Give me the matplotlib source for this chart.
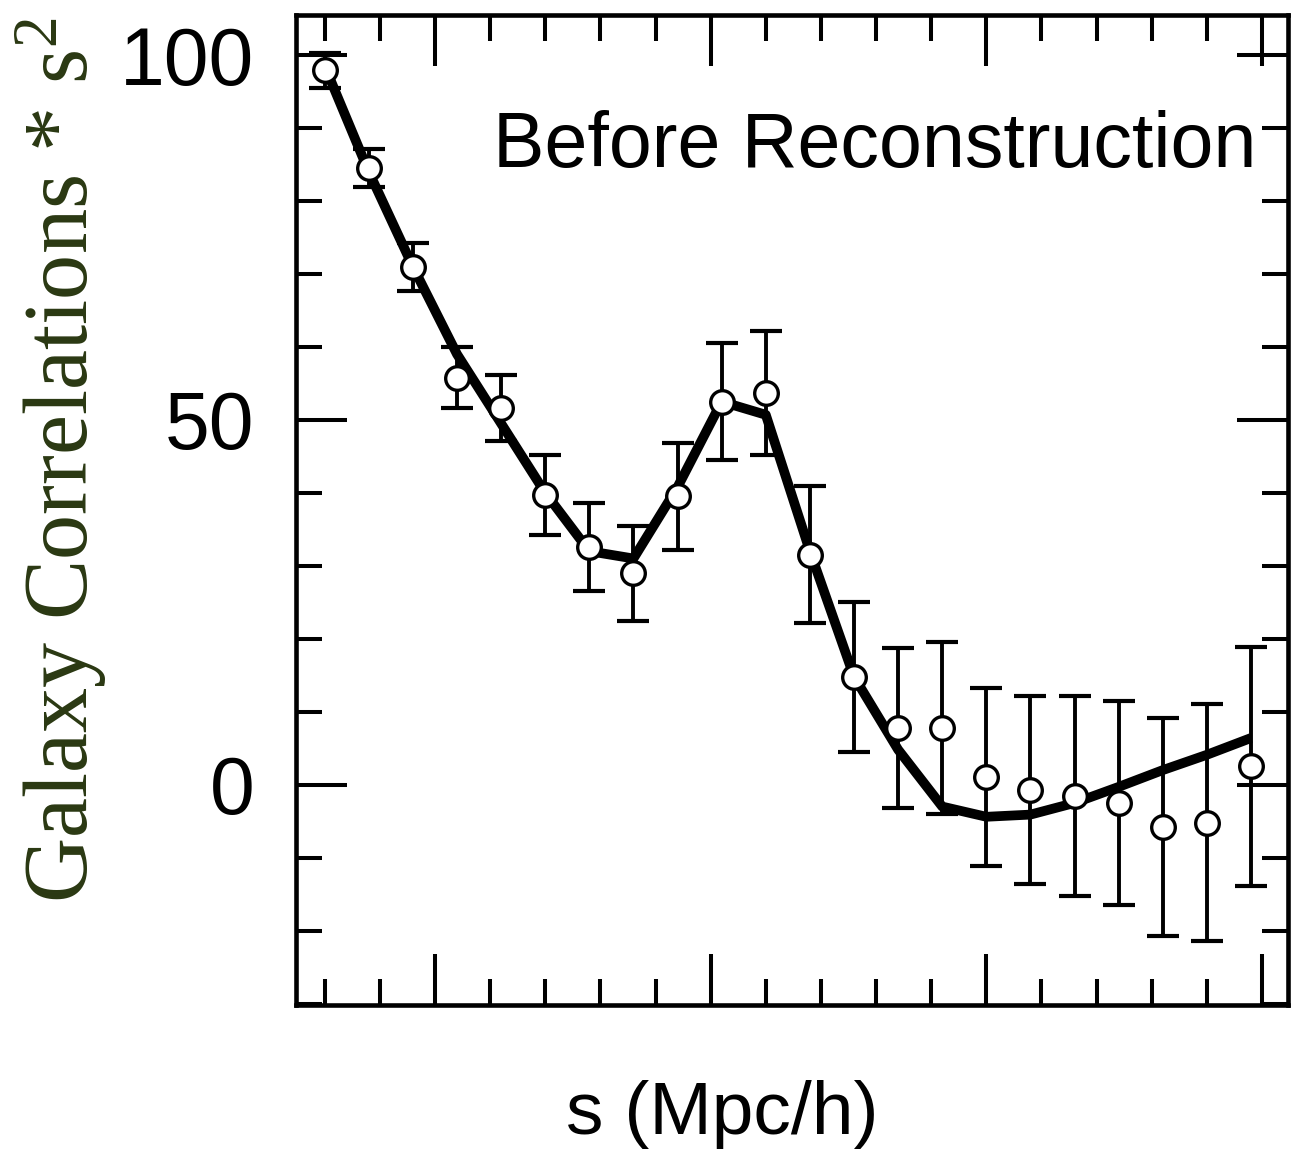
import numpy as np
import matplotlib.pyplot as plt
from matplotlib.ticker import MultipleLocator, FixedLocator

plt.rcParams['mathtext.fontset'] = 'custom'
plt.rcParams['mathtext.rm'] = 'Liberation Serif'
plt.rcParams['mathtext.it'] = 'Liberation Serif:italic'

# separation bins (Mpc/h)
s = [30, 38, 46, 54, 62, 70, 78, 86, 94, 102, 110,
     118, 126, 134, 142, 150, 158, 166, 174, 182, 190, 198]
# measured correlation * s^2 and 1-sigma errors
xi_s2 = [97.9, 84.5, 71.0, 55.8, 51.6, 39.7, 32.6, 29.0, 39.5, 52.5, 53.7,
         31.5, 14.8, 7.8, 7.8, 1.1, -0.7, -1.6, -2.5, -5.8, -5.2, 2.5]
xi_err = [2.4, 2.6, 3.3, 4.2, 4.5, 5.5, 6.0, 6.5, 7.3, 8.0, 8.5,
          9.4, 10.3, 11.0, 11.8, 12.2, 12.9, 13.7, 14.0, 15.0, 16.2, 16.4]
# model curve
model = [98.5, 84.0, 71.0, 59.0, 49.5, 40.0, 32.0, 31.0, 40.8, 52.5, 50.7,
         32.0, 14.8, 4.8, -3.0, -4.4, -4.1, -2.5, -0.3, 2.0, 4.1, 6.4]

fig = plt.figure(figsize=(13.04, 11.49), dpi=100)
ax = fig.add_axes([0.227, 0.1253, 0.7607, 0.8617])

ax.errorbar(s, xi_s2, yerr=xi_err, fmt='none', ecolor='black',
            elinewidth=2.8, capsize=11.5, capthick=3.0, zorder=2)
ax.plot(s, model, color='black', lw=7, solid_capstyle='butt', zorder=3)
ax.plot(s, xi_s2, 'o', ms=17, mfc='white', mec='black', mew=2.4, zorder=4)

ax.set_xlim(24.8, 204.7)
ax.set_ylim(-30.2, 105.5)

ax.xaxis.set_major_locator(FixedLocator([50, 100, 150, 200]))
ax.xaxis.set_minor_locator(FixedLocator([30, 40, 60, 70, 80, 90, 110, 120, 130,
                                         140, 160, 170, 180, 190]))
ax.yaxis.set_major_locator(MultipleLocator(50))
ax.yaxis.set_minor_locator(MultipleLocator(10))

ax.tick_params(which='both', direction='in', top=True, right=True, width=2.9, color='black')
ax.tick_params(which='major', length=36.5)
ax.tick_params(which='minor', length=18.7)
ax.tick_params(axis='x', labelbottom=False)
ax.tick_params(axis='y', which='major', pad=30, labelsize=58)
for lab in ax.get_yticklabels():
    lab.set_fontfamily('Liberation Sans')
ax.yaxis.set_major_formatter(plt.FuncFormatter(lambda v, p: f"{v:.0f}"))

for sp in ax.spines.values():
    sp.set_linewidth(3.3)

ax.text(0.968, 0.846, 'Before Reconstruction', transform=ax.transAxes,
        ha='right', va='baseline', fontsize=55.5, family='Liberation Sans')

fig.text(722 / 1304, 1 - 1134 / 1149, 's (Mpc/h)', ha='center', va='baseline',
         fontsize=54, family='Liberation Sans')

fig.text(88 / 1304, 1 - 460 / 1149, r'Galaxy Correlations * s$^2$', rotation=90,
         rotation_mode='anchor', ha='center', va='baseline', fontsize=65,
         family='Liberation Serif', color='#2a3812')

fig.savefig('out.png', dpi=100)
